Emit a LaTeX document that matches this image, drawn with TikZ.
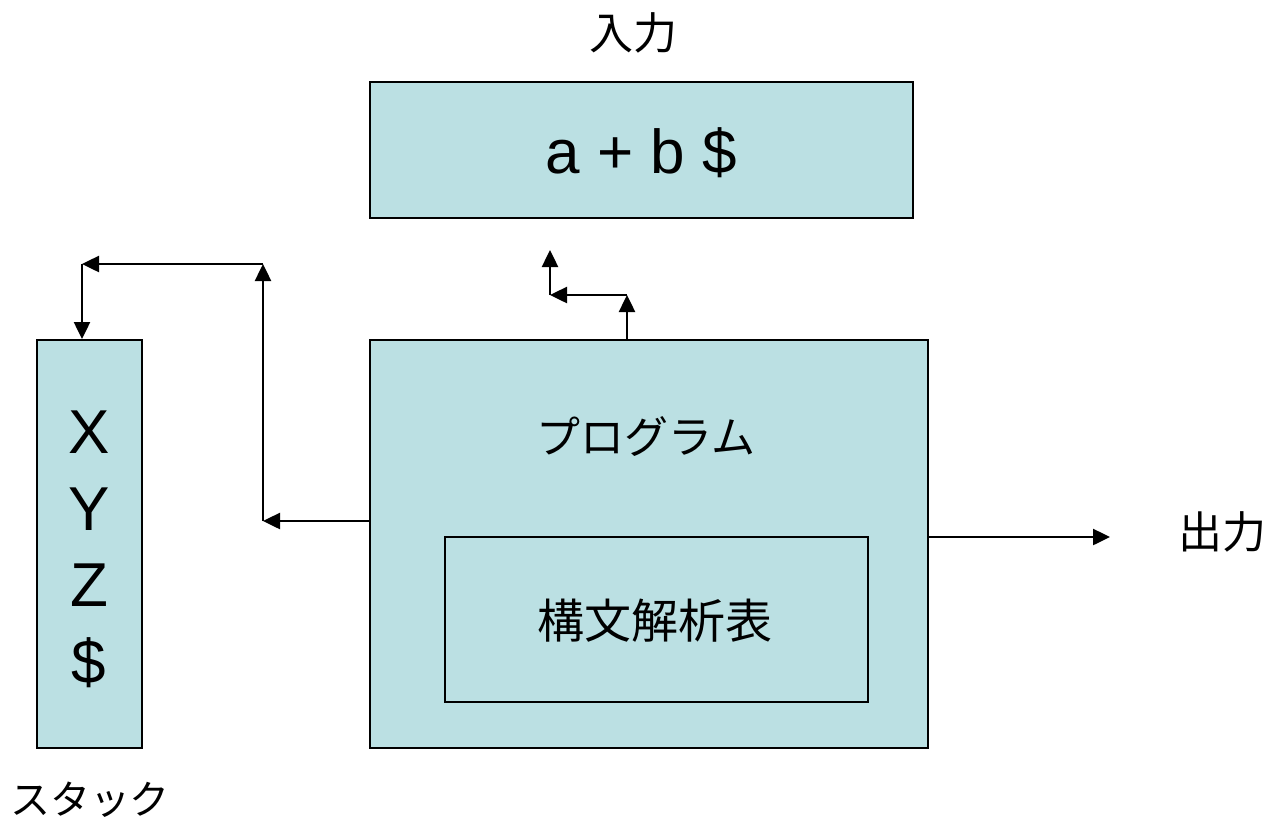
\documentclass[tikz,border=0pt]{standalone}
\usepackage{fontspec}
\setmainfont{Liberation Sans}
\newfontfamily\jp{Noto Sans CJK JP}
\usetikzlibrary{arrows.meta}
\definecolor{boxfill}{RGB}{187,224,227}
\begin{document}
\begin{tikzpicture}[x=1pt,y=-1pt,
  box/.style={draw=black,line width=2pt,fill=boxfill,rectangle,inner sep=0pt},
  conn/.style={line width=2.5pt,-{Triangle[length=17pt,width=16pt]}},
  big/.style={font=\fontsize{62}{62}\selectfont,inner sep=0pt},
  jtext/.style={font=\jp\fontsize{44}{44}\selectfont,inner sep=0pt}]
\useasboundingbox (0,0) rectangle (1270,823);
% boxes
\node[box,minimum width=543pt,minimum height=136pt] (inp) at (641.5,150) {};
\node[box,minimum width=105pt,minimum height=408pt] (stack) at (89.5,544) {};
\node[box,minimum width=558pt,minimum height=408pt] (prog) at (649,544) {};
\node[box,minimum width=423pt,minimum height=165pt] (tab) at (656.5,619.5) {};
% texts
\node[big,anchor=base] (abs) at (641.5,173) {a + b \$};
\node[big,anchor=base] (sx) at (89,453) {X};
\node[big,anchor=base] (sy) at (89,530) {Y};
\node[big,anchor=base] (sz) at (89,606) {Z};
\node[big,anchor=base] (sd) at (89,683) {\$};
\node[jtext] (lin) at (633,33) {入力};
\node[jtext] (lprog) at (646,437) {プログラム};
\node[jtext,font=\jp\fontsize{47}{47}\selectfont] (ltab) at (655,621) {構文解析表};
\node[jtext,font=\jp\fontsize{40}{40}\selectfont] (lstack) at (90,800) {スタック};
\node[jtext] (lout) at (1222,532) {出力};
% connector corners
\coordinate (c1) at (263,521);
\coordinate (c2) at (263,264);
\coordinate (c3) at (82,264);
\coordinate (t1) at (627,295);
\coordinate (t2) at (550,295);
\coordinate (t3) at (550,250);
\coordinate (o1) at (1110,537);
% connectors
\draw[conn] (prog.west |- c1) -- (c1);
\draw[conn] (c1) -- (c2);
\draw[conn] (c2) -- (c3);
\draw[conn] (c3) -- (c3 |- stack.north);
\draw[conn] (t1 |- prog.north) -- (t1);
\draw[conn] (t1) -- (t2);
\draw[conn] (t2) -- (t3);
\draw[conn] (prog.east |- o1) -- (o1);
\end{tikzpicture}
\end{document}
